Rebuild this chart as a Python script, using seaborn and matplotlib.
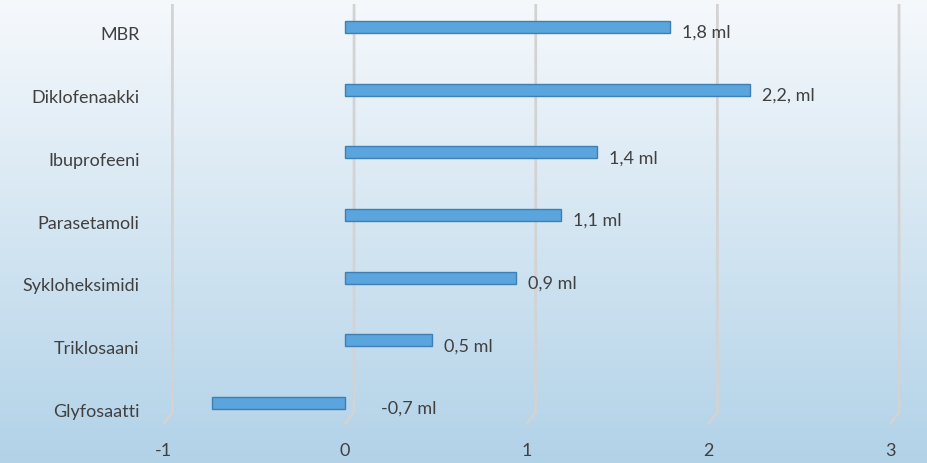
import numpy as np
import pandas as pd
import seaborn as sns
import matplotlib.pyplot as plt
import matplotlib.transforms as mtransforms

# data
categories = ['MBR', 'Diklofenaakki', 'Ibuprofeeni', 'Parasetamoli',
              'Sykloheksimidi', 'Triklosaani', 'Glyfosaatti']
values = [1.79, 2.23, 1.39, 1.19, 0.94, 0.48, -0.73]
value_labels = ['1,8 ml', '2,2, ml', '1,4 ml', '1,1 ml',
                '0,9 ml', '0,5 ml', '-0,7 ml']
x_ticks = [-1, 0, 1, 2, 3]

sns.set_style('white')
plt.rcParams['font.family'] = ['Lato', 'DejaVu Sans']

fig = plt.figure(figsize=(9.28, 4.64), dpi=100)

# background gradient, white at top to light blue at bottom
bg = fig.add_axes([0, 0, 1, 1], zorder=0)
grad = np.linspace(0, 1, 256).reshape(-1, 1)
top = np.array([246, 249, 252]) / 255
bottom = np.array([178, 210, 232]) / 255
img = top + grad[:, :, None] * (bottom - top)
bg.imshow(img, aspect='auto', extent=[0, 1, 0, 1], origin='upper')
bg.axis('off')

# axes from y=5px to y=425px
ax = fig.add_axes([0.176, 1 - 425 / 464, 0.783, 420 / 464], zorder=1)
ax.patch.set_alpha(0)

df = pd.DataFrame({'category': categories, 'value': values})
sns.barplot(data=df, x='value', y='category', orient='h', width=0.19,
            color='#5aa5dd', edgecolor='#3f7fb3', linewidth=1.0,
            saturation=1, ax=ax, zorder=3)

y_bottom, y_top = 6.335, -0.367
ax.set_xlim(-1, 3)
ax.set_ylim(y_bottom, y_top)
ax.set_xticks(x_ticks)
ax.set_xticklabels([str(t) for t in x_ticks])

# back-wall gridlines with the small 3D floor corner
off = 0.05
for t in x_ticks:
    ax.plot([t + off, t + off, t], [y_top, 6.145, y_bottom],
            color='#d3d3d3', linewidth=2, zorder=0, clip_on=False,
            solid_capstyle='butt')

ax.grid(False)
for s in ax.spines.values():
    s.set_visible(False)
ax.tick_params(axis='x', length=0, pad=13, labelsize=13, labelcolor='#404040')
ax.tick_params(axis='y', length=0, pad=17, labelsize=13, labelcolor='#404040')
ax.set_xlabel('')
ax.set_ylabel('')

# category labels sit a little below the bars (3D look)
shift = mtransforms.ScaledTranslation(0, -6 / 100, fig.dpi_scale_trans)
for lbl in ax.get_yticklabels():
    lbl.set_transform(lbl.get_transform() + shift)

# value labels
for i, (v, lab) in enumerate(zip(values, value_labels)):
    xpos = v + 0.065 if v > 0 else 0.2
    ax.text(xpos, i + 0.08, lab, va='center', ha='left', fontsize=13,
            color='#404040', zorder=4)

fig.savefig('out.png', dpi=100)
